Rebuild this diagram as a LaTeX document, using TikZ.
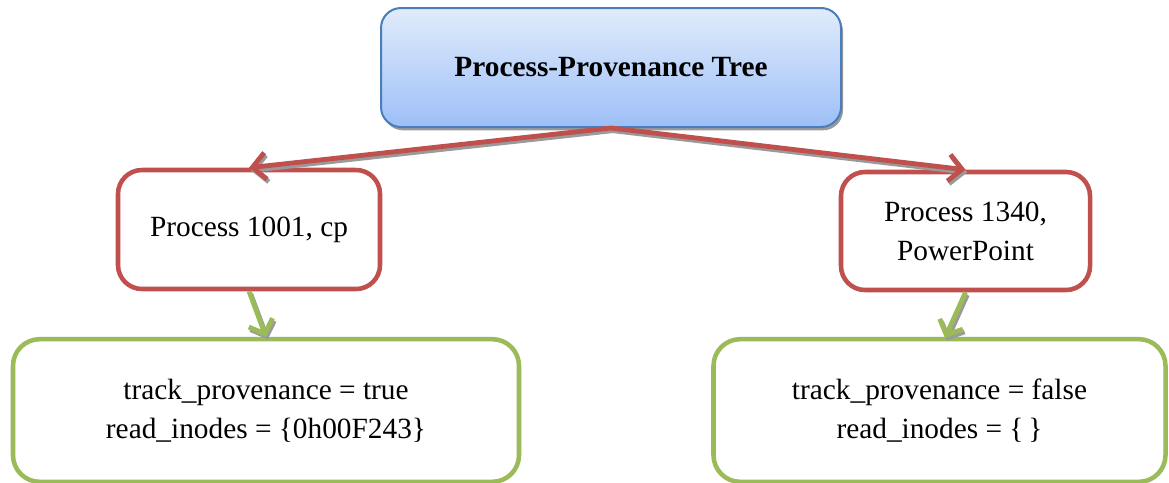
\documentclass[tikz,border=0pt]{standalone}
\usepackage{fontspec}
\setmainfont{Liberation Serif}
\usetikzlibrary{arrows.meta,shadows}
\definecolor{redc}{HTML}{C0504D}
\definecolor{greenc}{HTML}{9BBB59}
\definecolor{bluec}{HTML}{4A7EBB}
\definecolor{bluetop}{HTML}{E1ECFC}
\definecolor{bluebot}{HTML}{9DBFF7}
\definecolor{shadowc}{HTML}{9A9A9A}
\begin{document}
\begin{tikzpicture}[x=0.75pt,y=-0.75pt,
  txt/.style={font=\fontsize{22}{29.3}\selectfont, align=center, inner sep=0pt},
  titlebox/.style={txt, draw=bluec, line width=1.5pt, rounded corners=15pt,
    top color=bluetop, bottom color=bluebot,
    drop shadow={shadow xshift=1.5pt, shadow yshift=-2.5pt, fill=shadowc, opacity=1}},
  procbox/.style={txt, draw=redc, line width=3.4pt, rounded corners=18pt, fill=white},
  flagbox/.style={txt, draw=greenc, line width=3.4pt, rounded corners=20pt, fill=white},
  redline/.style={draw=redc, line width=3.6pt, -{Straight Barb[length=10pt,width=20pt]}},
  greenline/.style={draw=greenc, line width=3.6pt, -{Straight Barb[length=9pt,width=19pt]}},
  arrowshadow/.style={draw=shadowc, transform canvas={xshift=1.3pt, yshift=-2pt}}
]
\useasboundingbox (0,0) rectangle (1169,482);
\fill[white] (0,0) rectangle (1169,482);

\node[titlebox, minimum width=345pt, minimum height=89.25pt] (top) at (611,67.5)
  {\bfseries Process-Provenance Tree};
\node[procbox, minimum width=196.5pt, minimum height=89.25pt] (lr) at (249,229.5)
  {Process 1001, cp};
\node[procbox, minimum width=186.75pt, minimum height=88.5pt] (rr) at (965.5,231)
  {Process 1340,\\PowerPoint};
\node[flagbox, minimum width=379.5pt, minimum height=107pt] (lg) at (266,410.5)
  {track\_provenance = true\\read\_inodes = \{0h00F243\}};
\node[flagbox, minimum width=339pt, minimum height=107pt] (rg) at (939.5,410.5)
  {track\_provenance = false\\read\_inodes = \{\,\}};

\coordinate (rgin) at (945,338);

\draw[redline, arrowshadow] (top.south) -- (lr.north);
\draw[redline, arrowshadow] (top.south) -- (rr.north);
\draw[redline] (top.south) -- (lr.north);
\draw[redline] (top.south) -- (rr.north);

\draw[greenline, arrowshadow] (lr.south) -- (lg.north);
\draw[greenline, arrowshadow] (rr.south) -- (rgin);
\draw[greenline] (lr.south) -- (lg.north);
\draw[greenline] (rr.south) -- (rgin);
\end{tikzpicture}
\end{document}
